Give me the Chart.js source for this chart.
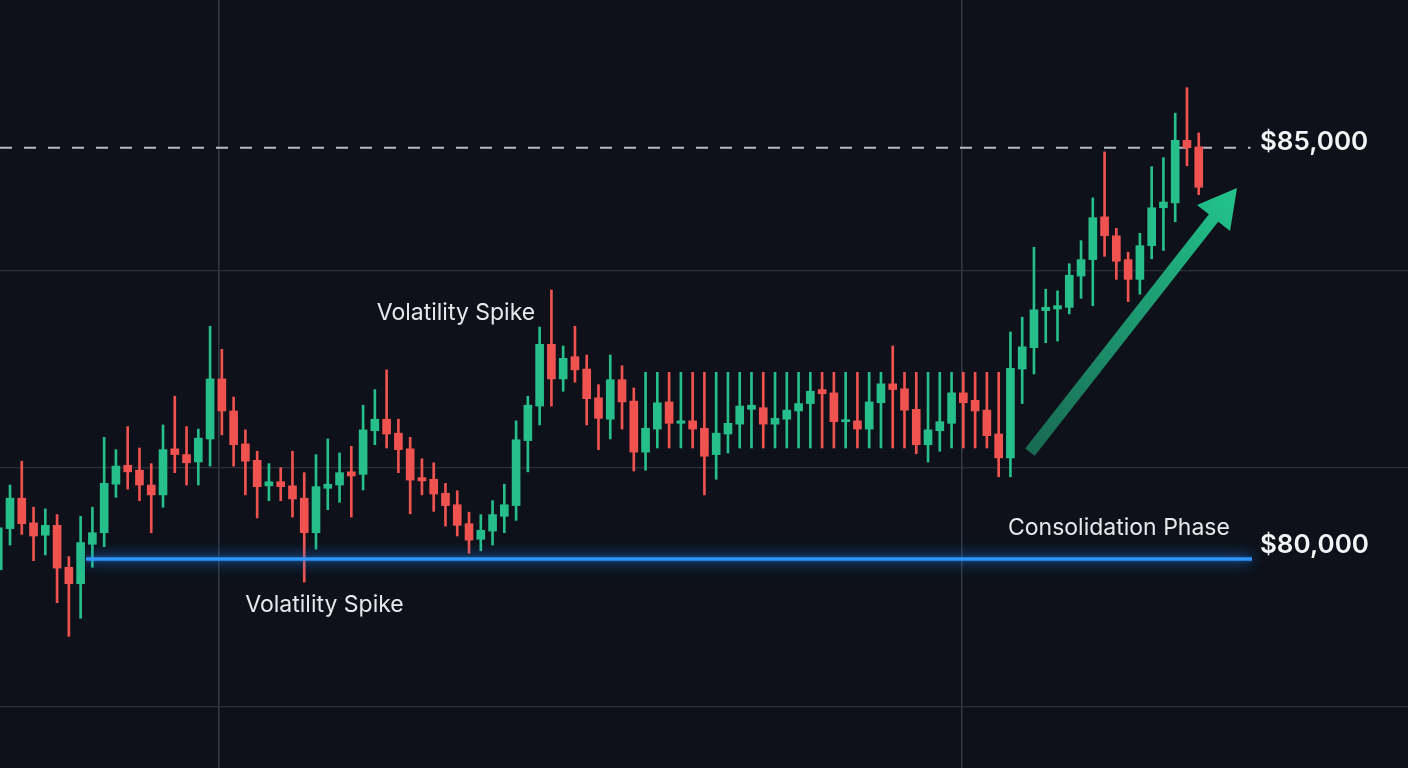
<!DOCTYPE html>
<html><head><meta charset="utf-8">
<script src="https://cdn.jsdelivr.net/npm/chart.js@4/dist/chart.umd.min.js"></script>
<style>html,body{margin:0;padding:0;background:#0e1119;overflow:hidden}canvas{display:block}</style>
</head><body><canvas id="c" width="1408" height="768"></canvas>
<script>
// ---- data (price, USD) ----
const openP  = [79870,80370,80740,80440,80290,80410,79900,79700,80180,80320,80910,81140,81080,80900,80780,81340,81270,81180,81460,82190,81800,81400,81200,80890,80940,80890,80740,80320,80860,80900,81060,81030,81560,81700,81530,81340,80990,80970,80800,80660,80430,80240,80340,80520,80650,81440,81860,82610,82190,82460,82310,81960,81700,82180,81920,81300,81580,81910,81650,81680,81590,81270,81520,81640,81820,81840,81640,81700,81800,81890,82060,82020,81670,81680,81580,81900,82130,82070,81820,81390,81560,81650,82020,81930,81810,81520,81230,82310,82570,83020,83040,83060,83440,83640,84160,83930,83640,83400,83810,84270,84330,85090,85010];
const highP  = [80470,80900,81190,80630,80610,80540,80030,80520,80630,81480,81330,81610,81350,81160,81630,81980,81610,81580,82830,82550,81970,81570,81310,81160,81110,81310,81050,81270,81460,81290,81370,81870,82060,82300,81700,81480,81220,81170,80920,80830,80570,80540,80710,80910,81680,81980,82820,83270,82590,82830,82480,82120,82480,82350,82080,82270,82270,82270,82270,82270,82270,82270,82270,82270,82270,82270,82270,82270,82270,82270,82270,82270,82270,82270,82270,82270,82590,82270,82270,82270,82270,82270,82270,82270,82270,82270,82760,82940,83790,83280,83260,83590,83870,84390,84950,84020,83730,83960,84770,84880,85420,85730,85180];
const lowP   = [79790,80170,80300,79980,80050,79470,79060,79280,79900,80150,80750,80850,80710,80320,80630,81050,80900,80900,81130,81510,81130,80780,80500,80710,80710,80510,79720,80120,80600,80690,80510,80840,81390,81350,81050,80550,80780,80580,80400,80280,80070,80100,80170,80320,80470,81060,81630,81860,82040,82150,81630,81330,81460,81580,81070,81080,81350,81350,81350,81350,80780,80970,81290,81350,81350,81350,81350,81350,81350,81350,81350,81350,81350,81350,81350,81350,81350,81350,81280,81180,81310,81350,81350,81350,81350,81000,81000,81890,82250,82630,82650,82980,83170,83080,83680,83400,83130,83220,83650,83750,84100,84780,84430];
const closeP = [80380,80740,80430,80280,80410,79890,79700,80200,80320,80920,81130,81060,80900,80780,81330,81270,81170,81470,82190,81800,81390,81190,80880,80940,80880,80730,80320,80880,80910,81050,81010,81570,81700,81520,81330,80960,80950,80790,80650,80410,80230,80350,80540,80660,81450,81870,82610,82190,82440,82300,81950,81710,82180,81910,81300,81590,81900,81650,81680,81580,81250,81530,81650,81860,81870,81640,81710,81810,81890,82040,82010,81670,81690,81580,81910,82130,82060,81810,81390,81570,81670,82020,81900,81800,81500,81230,82320,82580,83030,83060,83080,83450,83640,84150,83930,83620,83400,83810,84270,84340,85090,85000,84520];
const candleIndex = openP.map((_, i) => i);

// reference levels and gridlines
const levelHigh = 85000;
const levelLow = 80000;
const levelLabels = ['$85,000', '$80,000'];
const gridPrices = [83510, 81110, 78210];
const gridCandles = [18.76, 81.88];
const annotationTexts = ['Volatility Spike', 'Volatility Spike', 'Consolidation Phase'];

// ---- view window (candle units / price units) ----
const xMin = 0.15, xMax = 119.78;
const yMin = 77460, yMax = 86796;

const UP = '#26bf8b', DOWN = '#f0524f';
const colors = candleIndex.map(i => closeP[i] >= openP[i] ? UP : DOWN);

const bodies = candleIndex.map(i => ({x: i, y: [Math.min(openP[i], closeP[i]), Math.max(openP[i], closeP[i])]}));
const wicks = candleIndex.map(i => ({x: i, y: [lowP[i], highP[i]]}));

const glowPlugin = {
  id: 'glow',
  beforeDatasetDraw(chart, args) {
    const ds = chart.data.datasets[args.index];
    if (ds.glow) {
      const ctx = chart.ctx;
      ctx.save();
      ctx.shadowColor = 'rgba(30,140,255,1)';
      ctx.shadowBlur = ds.glow;
    }
  },
  afterDatasetDraw(chart, args) {
    if (chart.data.datasets[args.index].glow) chart.ctx.restore();
  }
};

const overlayPlugin = {
  id: 'overlay',
  afterDatasetsDraw(chart) {
    const ctx = chart.ctx, xs = chart.scales.x, ys = chart.scales.y;
    const X = v => xs.getPixelForValue(v), Y = v => ys.getPixelForValue(v);
    // trend arrow
    const p0 = {x: X(87.66), y: Y(81300)}, p1 = {x: X(105.25), y: Y(84510)};
    const dx = p1.x - p0.x, dy = p1.y - p0.y, len = Math.hypot(dx, dy);
    const ux = dx / len, uy = dy / len, px = -uy, py = ux;
    const headLen = 38, headHalf = 21;
    const bx = p1.x - ux * headLen, by = p1.y - uy * headLen;
    const g = ctx.createLinearGradient(p0.x, p0.y, p1.x, p1.y);
    g.addColorStop(0, '#186a52');
    g.addColorStop(1, '#22c48c');
    ctx.save();
    ctx.strokeStyle = g; ctx.lineWidth = 12; ctx.lineCap = 'butt';
    ctx.beginPath(); ctx.moveTo(p0.x, p0.y); ctx.lineTo(bx + ux * 2, by + uy * 2); ctx.stroke();
    ctx.fillStyle = g;
    ctx.beginPath();
    ctx.moveTo(p1.x, p1.y);
    ctx.lineTo(bx + px * headHalf, by + py * headHalf);
    ctx.lineTo(bx - px * headHalf, by - py * headHalf);
    ctx.closePath(); ctx.fill();
    // texts
    ctx.textBaseline = 'middle';
    ctx.fillStyle = '#e6e8ec';
    ctx.font = '400 23px Inter, "Open Sans", sans-serif';
    ctx.textAlign = 'center';
    ctx.fillText(annotationTexts[0], X(38.89), Y(82990));
    ctx.fillText(annotationTexts[1], X(27.72), Y(79440));
    ctx.textAlign = 'left';
    ctx.fillText(annotationTexts[2], X(85.79), Y(80380));
    ctx.fillStyle = '#f4f5f7';
    ctx.font = '600 26px Inter, "Open Sans", sans-serif';
    ctx.fillText(levelLabels[0], X(107.2), Y(85070));
    ctx.fillText(levelLabels[1], X(107.2), Y(80170));
    ctx.restore();
  }
};

const bgPlugin = {
  id: 'bg',
  beforeDraw(chart) {
    const ctx = chart.ctx;
    ctx.save(); ctx.fillStyle = '#0e1119'; ctx.fillRect(0, 0, chart.width, chart.height); ctx.restore();
  }
};

new Chart(document.getElementById('c'), {
  type: 'bar',
  data: {
    datasets: [
      {type: 'line', data: [{x: 7.46, y: levelLow}, {x: 106.52, y: levelLow}], borderColor: '#2e96ff', borderWidth: 3.5, pointRadius: 0, order: 0, glow: 14},
      {type: 'line', data: [{x: 7.46, y: levelLow}, {x: 106.52, y: levelLow}], borderColor: 'rgba(30,130,255,0.12)', borderWidth: 8, pointRadius: 0, order: 0.5, glow: 26},
      {data: bodies, backgroundColor: colors, barThickness: 8, minBarLength: 2, grouped: false, order: 1, borderWidth: 0},
      {data: wicks, backgroundColor: colors, barThickness: 2, grouped: false, order: 2, borderWidth: 0},
      {type: 'line', data: [{x: xMin, y: levelHigh}, {x: 106.4, y: levelHigh}], borderColor: '#b8bcc3', borderWidth: 2, borderDash: [12, 12], pointRadius: 0, order: 3}
    ]
  },
  options: {
    responsive: false,
    animation: false,
    events: [],
    layout: {padding: 0},
    plugins: {legend: {display: false}, tooltip: {enabled: false}},
    scales: {
      x: {
        type: 'linear', min: xMin, max: xMax, offset: false,
        grid: {color: '#343943', lineWidth: 1.5, drawTicks: false, offset: false},
        border: {display: false},
        ticks: {display: false},
        afterBuildTicks: s => { s.ticks = gridCandles.map(v => ({value: v})); }
      },
      y: {
        type: 'linear', min: yMin, max: yMax,
        grid: {color: '#2c3039', lineWidth: 1.2, drawTicks: false},
        border: {display: false},
        ticks: {display: false},
        afterBuildTicks: s => { s.ticks = gridPrices.map(v => ({value: v})); }
      }
    }
  },
  plugins: [bgPlugin, glowPlugin, overlayPlugin]
});
</script>
</body></html>
